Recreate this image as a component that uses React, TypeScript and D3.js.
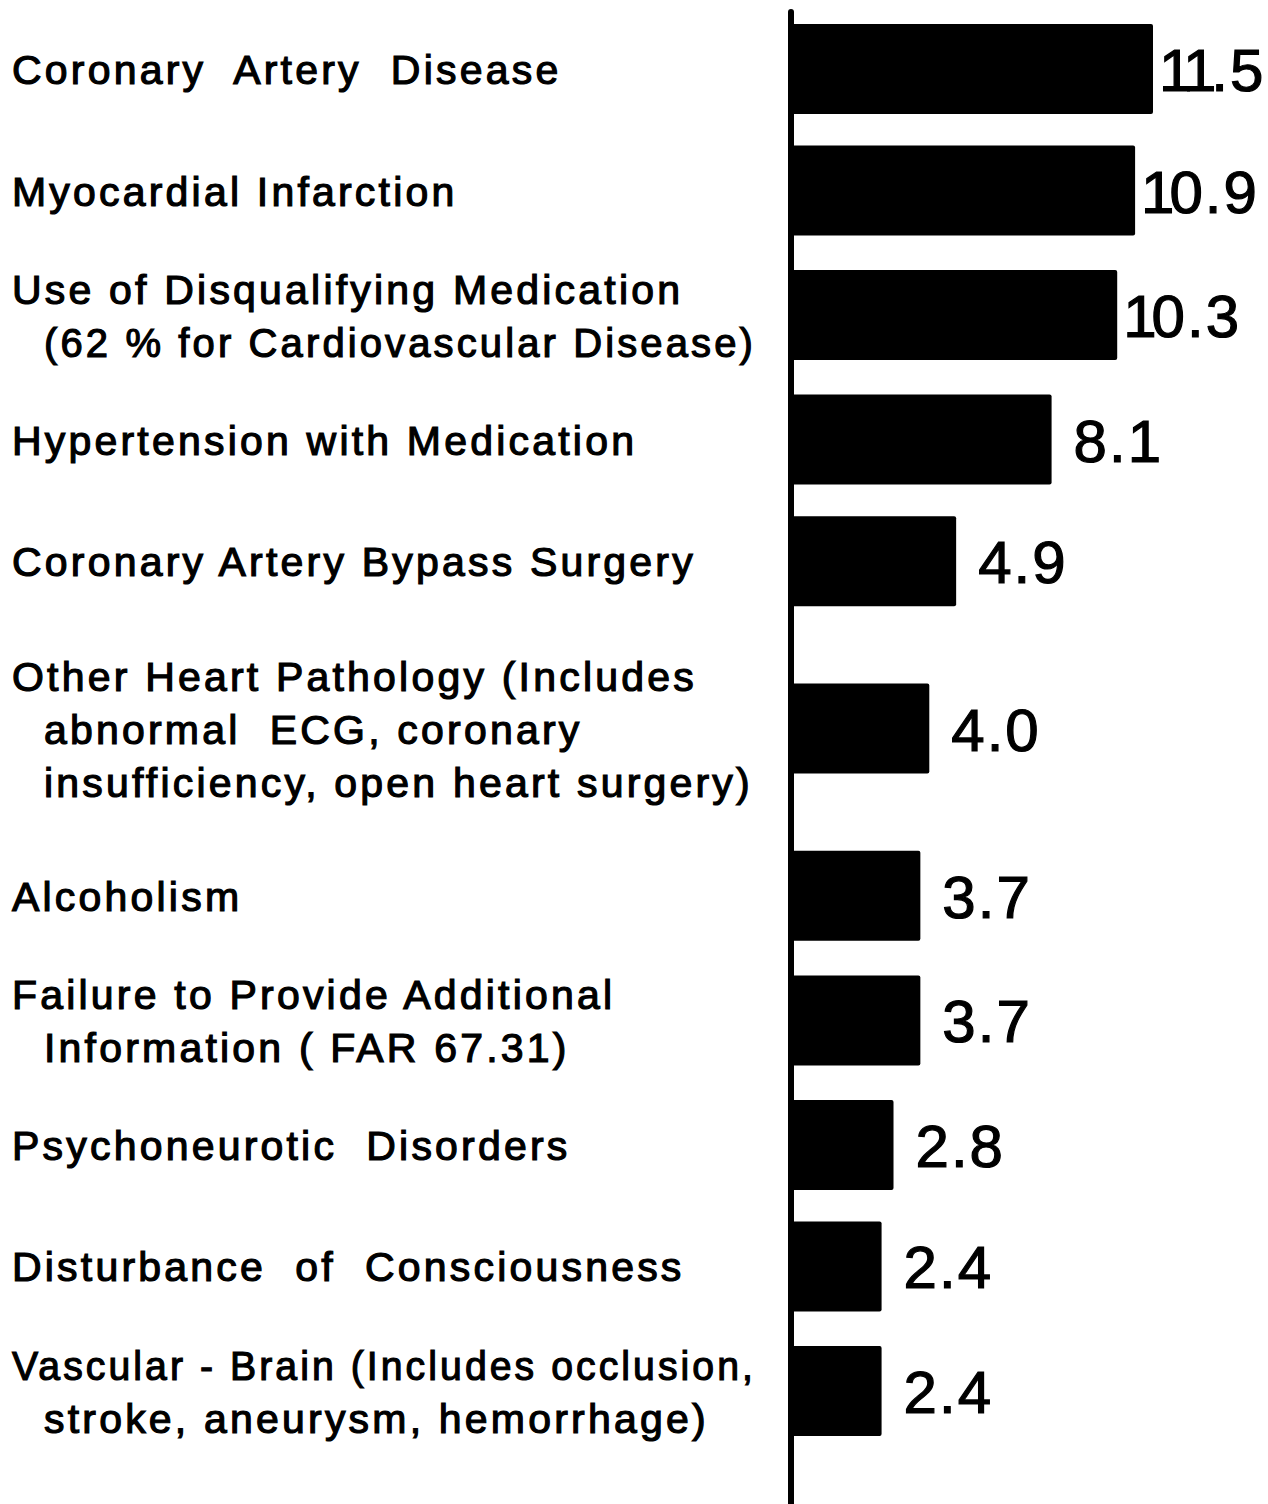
import { useEffect, useRef } from 'react'
import * as d3 from 'd3'

// label lines per category (continuation lines are indented)
const categories: string[][] = [
  ['Coronary  Artery  Disease'],
  ['Myocardial Infarction'],
  ['Use of Disqualifying Medication', '(62 % for Cardiovascular Disease)'],
  ['Hypertension with Medication'],
  ['Coronary Artery Bypass Surgery'],
  ['Other Heart Pathology (Includes', 'abnormal  ECG, coronary', 'insufficiency, open heart surgery)'],
  ['Alcoholism'],
  ['Failure to Provide Additional', 'Information ( FAR 67.31)'],
  ['Psychoneurotic  Disorders'],
  ['Disturbance  of  Consciousness'],
  ['Vascular - Brain (Includes occlusion,', 'stroke, aneurysm, hemorrhage)'],
]

const values = [11.5, 10.9, 10.3, 8.1, 4.9, 4.0, 3.7, 3.7, 2.8, 2.4, 2.4]
const valueLabels = ['11.5', '10.9', '10.3', '8.1', '4.9', '4.0', '3.7', '3.7', '2.8', '2.4', '2.4']

export default function App() {
  const ref = useRef<SVGSVGElement | null>(null)
  const width = 1268
  const height = 1504

  useEffect(() => {
    const svg = d3.select(ref.current)
    svg.selectAll('*').remove()

    const axisX = 791
    const barH = 90
    const lineGap = 53
    const labelRight = 756

    // extra room for rows with several lines of label
    const extra = (n: number) => (n === 3 ? 46 : n === 2 ? 3 : 0)
    const pos: number[] = [0]
    for (let i = 1; i < categories.length; i++) {
      pos.push(pos[i - 1] + 122 + extra(categories[i - 1].length) + extra(categories[i].length))
    }

    const y = d3.scaleLinear()
      .domain([pos[0], pos[pos.length - 1]])
      .range([69, 1391])

    const x = d3.scaleLinear()
      .domain([0, 11.5])
      .range([810, 1153])

    const rows = values.map((v, i) => ({ v, label: valueLabels[i], lines: categories[i], c: y(pos[i]) }))

    // bars
    svg.append('g')
      .selectAll('rect')
      .data(rows)
      .enter()
      .append('rect')
      .attr('x', axisX)
      .attr('y', (d) => d.c - barH / 2)
      .attr('width', (d) => x(d.v) - axisX)
      .attr('height', barH)
      .attr('rx', 2)
      .attr('fill', '#000')

    // vertical axis line
    svg.append('line')
      .attr('x1', axisX)
      .attr('x2', axisX)
      .attr('y1', 12)
      .attr('y2', height)
      .attr('stroke', '#000')
      .attr('stroke-width', 6)
      .attr('stroke-linecap', 'round')

    // category labels
    const lab = svg.append('g')
      .attr('font-family', '"Liberation Sans", Arial, sans-serif')
      .attr('font-size', 41)
      .attr('fill', '#000')
      .attr('stroke', '#000')
      .attr('stroke-width', 1.2)
      .attr('letter-spacing', 3.2)

    rows.forEach((d) => {
      const n = d.lines.length
      const first = d.c - ((n - 1) * lineGap) / 2 + 15
      d.lines.forEach((t, j) => {
        const x0 = j === 0 ? 12 : 44
        const txt = lab.append('text')
          .attr('x', x0)
          .attr('y', first + j * lineGap)
          .style('white-space', 'pre')
          .text(t)
        // squeeze a line that would run into the axis
        const node = txt.node() as SVGTextElement
        const len = node.getComputedTextLength()
        if (len > labelRight - x0) {
          txt.attr('textLength', labelRight - x0).attr('lengthAdjust', 'spacingAndGlyphs')
        }
      })
    })

    // value labels
    const vals = svg.append('g')
      .attr('font-family', '"Liberation Sans", Arial, sans-serif')
      .attr('font-size', 60)
      .attr('fill', '#000')
      .attr('stroke', '#000')
      .attr('stroke-width', 1.2)

    rows.forEach((d) => {
      const lead1 = d.label[0] === '1'
      const t = vals.append('text')
        .attr('x', x(d.v) + (lead1 ? 6 : 22))
        .attr('y', d.c + 22)
      t.selectAll('tspan')
        .data(d.label.split(''))
        .enter()
        .append('tspan')
        .attr('letter-spacing', (ch) => (ch === '1' ? -5 : 2))
        .text((ch) => ch)
    })
  }, [])

  return (
    <svg
      ref={ref}
      width={width}
      height={height}
      style={{ position: 'absolute', left: 0, top: 0, background: '#fff' }}
    />
  )
}
